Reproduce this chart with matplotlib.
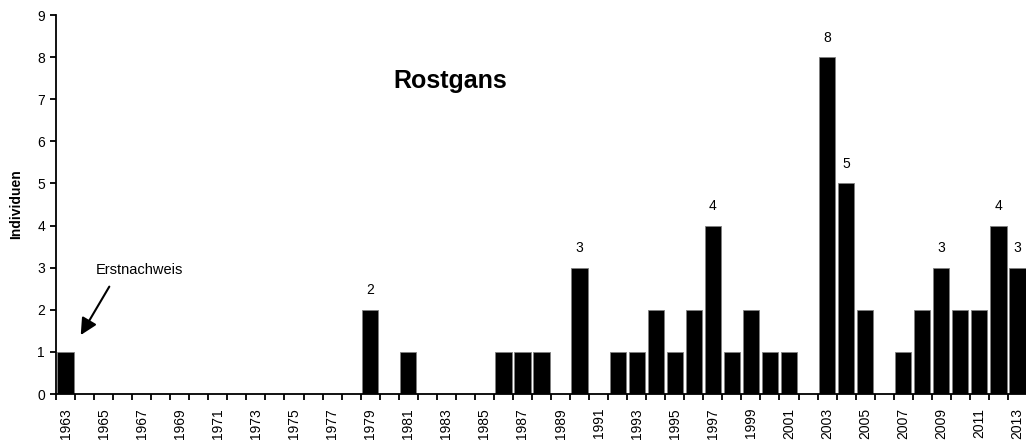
import matplotlib.pyplot as plt
import numpy as np

plt.rcParams["font.family"] = ["Liberation Sans", "DejaVu Sans"]

years = list(range(1963, 2014))
counts = [1, 0, 0, 0, 0, 0, 0, 0, 0, 0,   # 1963-1972
          0, 0, 0, 0, 0, 0, 2, 0, 1, 0,   # 1973-1982
          0, 0, 0, 1, 1, 1, 0, 3, 0, 1,   # 1983-1992
          1, 2, 1, 2, 4, 1, 2, 1, 1, 0,   # 1993-2002
          8, 5, 2, 0, 1, 2, 3, 2, 2, 4,   # 2003-2012
          3]                              # 2013
labelled_years = [1979, 1990, 1997, 2003, 2004, 2009, 2012, 2013]

fig = plt.figure(figsize=(10.26, 4.41), dpi=100)
ax = fig.add_axes([56 / 1026, 1 - 394 / 441, 971 / 1026, 379 / 441])

x = np.arange(len(years))
ax.bar(x, counts, width=0.85, color="black", edgecolor="#808080", linewidth=0.6, zorder=2)

for yr in labelled_years:
    i = years.index(yr)
    ax.annotate(str(counts[i]), (i, counts[i]), xytext=(0, 9), textcoords="offset points",
                ha="center", va="bottom", fontsize=10)

ax.set_xlim(-0.5, len(years) - 0.5)
ax.set_ylim(0, 9)
ax.set_yticks(range(10))

# ticks on category boundaries, labels centred under the bars
ax.set_xticks(np.arange(len(years) + 1) - 0.5)
ax.set_xticklabels([])
ax.set_xticks(x[::2], minor=True)
ax.set_xticklabels([str(y) for y in years[::2]], minor=True, rotation=90, fontsize=10)
ax.tick_params(axis="x", which="minor", length=0, pad=10)
ax.tick_params(axis="x", which="major", length=4, width=1.3, direction="out")
ax.tick_params(axis="y", length=4, width=1.3, direction="out", labelsize=10, pad=4)

for s in ["top", "right"]:
    ax.spines[s].set_visible(False)
for s in ["left", "bottom"]:
    ax.spines[s].set_linewidth(1.3)

ax.set_ylabel("Individuen", fontsize=10, fontweight="bold", labelpad=10)
ax.text(0.406, 0.825, "Rostgans", transform=ax.transAxes, fontsize=18,
        fontweight="bold", ha="center", va="center")

ax.annotate("Erstnachweis", xy=(1.2, 1.4), xytext=(1.6, 2.95), fontsize=10.5,
            ha="left", va="center")
ax.annotate("", xy=(0.8, 1.4), xytext=(2.3, 2.55),
            arrowprops=dict(arrowstyle="-|>,head_length=1.0,head_width=0.5",
                            color="black", lw=1.5, shrinkA=0, shrinkB=0))

fig.savefig("out.png", dpi=100)
